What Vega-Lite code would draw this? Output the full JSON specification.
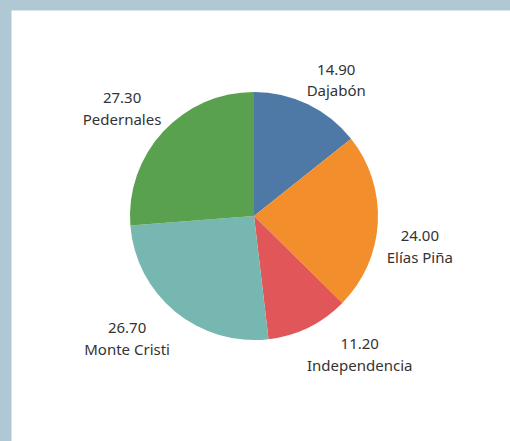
{
  "$schema": "https://vega.github.io/schema/vega-lite/v6.json",
  "width": 510,
  "height": 441,
  "autosize": {"type": "fit", "contains": "padding"},
  "padding": {"left": 11, "top": 10, "right": 0, "bottom": 0},
  "background": "#b0c8d3",
  "view": {"fill": "#ffffff", "stroke": "transparent"},
  "config": {
    "view": {"fill": "#ffffff", "stroke": "transparent"},
    "text": {"font": "Noto Sans", "fontSize": 15, "fill": "#333333"}
  },
  "data": {
    "values": [
      {"region": "Dajabón", "value": 14.9},
      {"region": "Elías Piña", "value": 24.0},
      {"region": "Independencia", "value": 11.2},
      {"region": "Monte Cristi", "value": 26.7},
      {"region": "Pedernales", "value": 27.3}
    ]
  },
  "encoding": {
    "theta": {"field": "value", "type": "quantitative", "stack": true},
    "order": {"field": "region", "type": "nominal", "sort": "ascending"}
  },
  "layer": [
    {
      "mark": {"type": "arc", "outerRadius": 124, "x": {"expr": "width / 2 - 6.5"}, "y": {"expr": "height / 2 - 9.5"}},
      "encoding": {
        "color": {
          "field": "region",
          "type": "nominal",
          "scale": {"range": ["#4e79a7", "#f28e2b", "#e15759", "#76b7b2", "#59a14f"]},
          "legend": null
        }
      }
    },
    {
      "mark": {
        "type": "text", "radius": 128, "baseline": "middle", "align": "center",
        "x": {"expr": "width / 2 - 6.5"}, "y": {"expr": "height / 2 - 9.5"},
        "dx": {"expr": "(scale('theta', (datum.value_start + datum.value_end) / 2) < PI ? 1 : -1) * length(datum.region) * 3.8"},
        "dy": {"expr": "cos(scale('theta', (datum.value_start + datum.value_end) / 2)) > 0 ? -31 : 13"}
      },
      "encoding": {
        "detail": {"field": "region", "type": "nominal"},
        "text": {"field": "value", "type": "quantitative", "format": ".2f"}
      }
    },
    {
      "mark": {
        "type": "text", "radius": 128, "baseline": "middle", "align": "center",
        "x": {"expr": "width / 2 - 6.5"}, "y": {"expr": "height / 2 - 9.5"},
        "dx": {"expr": "(scale('theta', (datum.value_start + datum.value_end) / 2) < PI ? 1 : -1) * length(datum.region) * 3.8"},
        "dy": {"expr": "cos(scale('theta', (datum.value_start + datum.value_end) / 2)) > 0 ? -9.5 : 35"}
      },
      "encoding": {
        "detail": {"field": "region", "type": "nominal"},
        "text": {"field": "region", "type": "nominal"}
      }
    }
  ]
}
